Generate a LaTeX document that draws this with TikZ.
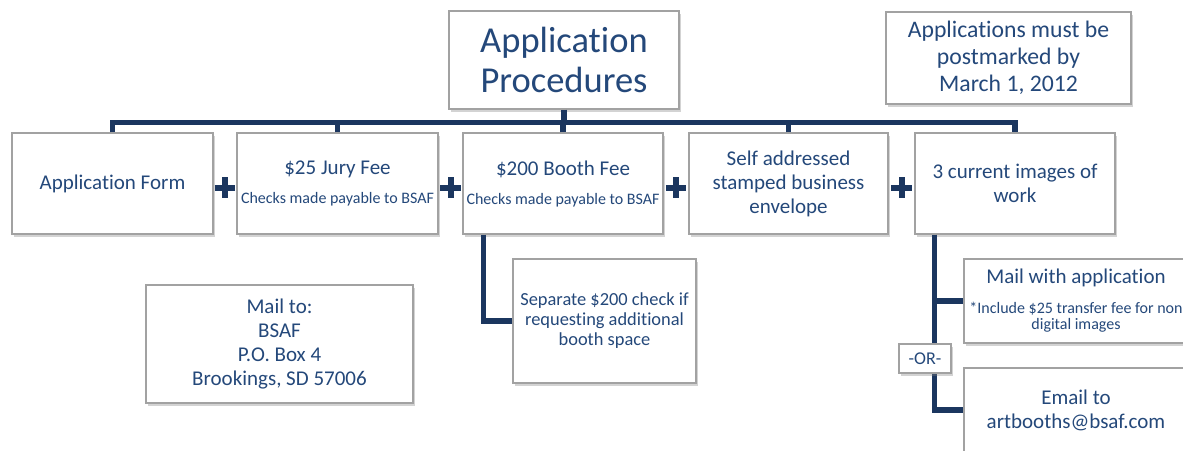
\documentclass[tikz,border=0pt]{standalone}
\usepackage{fontspec}
\setmainfont{Carlito}[Ligatures={NoCommon,NoContextual}]
\usetikzlibrary{shadows,calc}
\definecolor{txtblue}{HTML}{24487A}
\definecolor{navy}{HTML}{1B365F}
\definecolor{boxgray}{HTML}{A2A2A2}
\newcommand\subtxt{\fontsize{16}{18}\selectfont}

\tikzset{
  box/.style={draw=boxgray, line width=1.3pt, fill=white, text=txtblue,
    align=center, inner sep=0pt, font=\fontsize{21}{24}\selectfont,
    drop shadow={opacity=0.35, shadow xshift=2pt, shadow yshift=-3pt}},
  conn/.style={draw=navy, line width=5.5pt},
  plussign/.style={minimum size=20pt, inner sep=0pt}
}

\begin{document}
\begin{tikzpicture}[x=1pt,y=-1pt]
  \useasboundingbox (0,0) rectangle (1183,450);
  \node[box, minimum width=230, minimum height=98, font=\fontsize{36.5}{40}\selectfont] (title) at (564,60) {Application\\Procedures};
  \node[box, minimum width=245, minimum height=92, font=\fontsize{23.7}{27}\selectfont] (deadline) at (1008.5,58) {Applications must be\\postmarked by\\March 1, 2012};

  \node[box, minimum width=201, minimum height=101] (form) at (112.5,183.5) {Application Form};
  \node[box, minimum width=201, minimum height=101] (jury) at (337.5,183.5) {\$25 Jury Fee\\[5pt]\subtxt Checks made payable to BSAF};
  \node[box, minimum width=200, minimum height=101] (booth) at (563,183.5) {\$200 Booth Fee\\[5pt]\subtxt Checks made payable to BSAF};
  \node[box, minimum width=199, minimum height=101] (envelope) at (788.5,183.5) {Self addressed\\stamped business\\envelope};
  \node[box, minimum width=200, minimum height=101] (images) at (1015,183.5) {3 current images of\\work};

  \node[box, minimum width=267, minimum height=118] (address) at (279.5,344) {Mail to:\\BSAF\\P.O. Box 4\\Brookings, SD 57006};
  \node[box, minimum width=183, minimum height=124, font=\fontsize{18.4}{20}\selectfont] (extra) at (604.5,321) {Separate \$200 check if\\requesting additional\\booth space};
  \node[box, minimum width=224, minimum height=84] (bymail) at (1076,301) {Mail with application\\[6pt]\subtxt *Include \$25 transfer fee for non\\[-8pt]\subtxt digital images};
  \node[box, minimum width=224, minimum height=84] (byemail) at (1076,410) {Email to\\artbooths@bsaf.com};

  \foreach \a/\b [count=\i] in {form/jury,jury/booth,booth/envelope,envelope/images} {
    \node[plussign] (plus\i) at ($(\a.east)!0.5!(\b.west)+(0,4)$) {};
    \draw[navy, line width=6pt] (plus\i.west) -- (plus\i.east) (plus\i.north) -- (plus\i.south);
  }

  \coordinate (bus) at ($(title.south)+(0,13)$);
  \draw[conn] (title.south) -- (bus);
  \draw[conn] (form.north) |- (bus) -| (images.north);
  \draw[conn] (jury.north) -- (jury.north |- bus);
  \draw[conn] (booth.north) -- (booth.north |- bus);
  \draw[conn] (envelope.north) -- (envelope.north |- bus);
  \draw[conn] ([xshift=21pt]booth.south west) |- (extra.west);
  \draw[conn] ([xshift=20pt]images.south west) |- (bymail.west);
  \draw[conn] ([xshift=20pt]images.south west) |- (byemail.west);

  \node[box, minimum width=52, minimum height=29, font=\fontsize{18}{20}\selectfont] (or) at (925,358.5) {-OR-};
\end{tikzpicture}
\end{document}
